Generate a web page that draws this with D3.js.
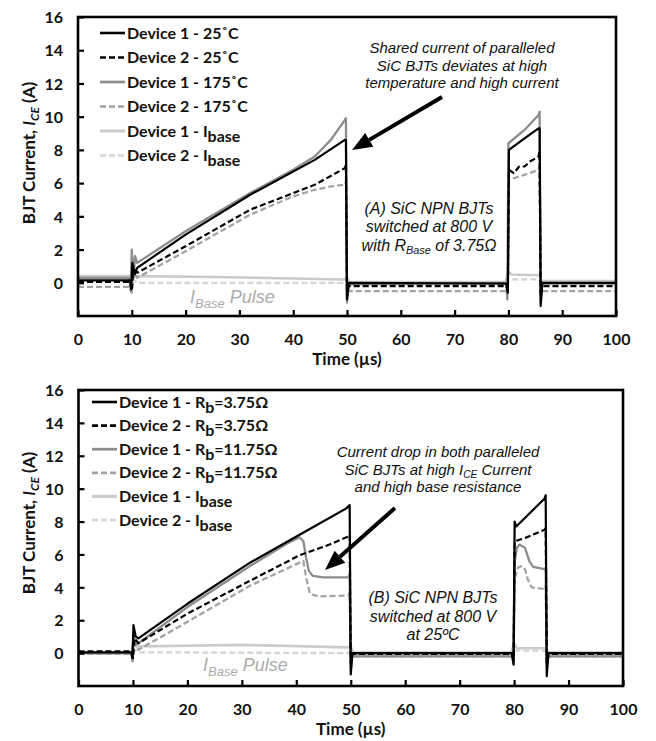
<!DOCTYPE html>
<html><head><meta charset="utf-8">
<script src="https://cdn.jsdelivr.net/npm/d3@7"></script>
<style>body{margin:0;background:#fff}</style>
</head><body>
<svg id="c" width="656" height="741"></svg>
<script>
// ---------------- DATA ----------------
const xTicks = [0,10,20,30,40,50,60,70,80,90,100];
const yTicks = [0,2,4,6,8,10,12,14,16];

// Panel A legend labels (parts: [text, isSubscript])
const legendA = [
  [["Device 1 - 25˚C",0]],
  [["Device 2 - 25˚C",0]],
  [["Device 1 - 175˚C",0]],
  [["Device 2 - 175˚C",0]],
  [["Device 1 - I",0],["base",1]],
  [["Device 2 - I",0],["base",1]]
];
const legendB = [
  [["Device 1 - R",0],["b",1],["=3.75Ω",0]],
  [["Device 2 - R",0],["b",1],["=3.75Ω",0]],
  [["Device 1 - R",0],["b",1],["=11.75Ω",0]],
  [["Device 2 - R",0],["b",1],["=11.75Ω",0]],
  [["Device 1 - I",0],["base",1]],
  [["Device 2 - I",0],["base",1]]
];

// Panel A series: [time µs, current A]
const a_dev1_25 = [[0,0.15],[9.7,0.15],[9.9,-0.4],[10.1,1.2],[10.5,0.5],[11,0.9],[20,2.9],[32,5.3],[44,7.4],[49.6,8.6],[49.8,8.6],[50,-1.0],[50.3,0.0],[79.6,-0.05],[79.9,-0.6],[80.1,8.0],[83,8.7],[85.6,9.3],[85.8,9.3],[86,-1.4],[86.3,0.0],[100,0.0]];
const a_dev2_25 = [[0,0.05],[9.7,0.05],[10.0,-0.5],[10.3,1.0],[11,0.6],[20,2.2],[32,4.4],[44,5.9],[49.6,6.9],[49.8,7.1],[50,-0.8],[50.3,-0.2],[79.6,-0.2],[79.9,-0.5],[80.1,6.8],[81,6.6],[82,7.0],[83,7.0],[84,7.3],[85.6,7.6],[85.8,7.9],[86,-0.8],[86.3,-0.2],[100,-0.2]];
const a_dev1_175 = [[0,0.3],[9.6,0.3],[9.8,-0.5],[10.0,2.0],[10.3,0.3],[10.6,1.6],[11,1.2],[20,3.1],[32,5.4],[40,6.8],[44,7.6],[47,8.6],[49.6,9.8],[49.8,9.9],[50,-1.2],[50.3,-0.1],[79.6,0.0],[79.8,-1.0],[80.0,8.4],[83,9.2],[85.6,10.1],[85.8,10.3],[86.0,-1.2],[86.3,-0.05],[100,-0.05]];
const a_dev2_175 = [[0,-0.25],[9.7,-0.25],[10.0,-0.6],[10.3,0.6],[11,0.3],[20,1.9],[32,4.1],[40,5.2],[44,5.6],[47,5.8],[49.6,5.9],[49.8,6.1],[50,-0.7],[50.3,-0.5],[79.6,-0.5],[79.9,-0.6],[80.1,6.2],[83,6.5],[85.6,6.8],[85.8,7.0],[86,-0.7],[86.3,-0.5],[100,-0.5]];
const a_dev1_ib = [[0,0.4],[9.8,0.4],[10,0.8],[10.5,0.4],[25,0.35],[49.5,0.2],[50,0.3],[50.5,0.05],[79.5,0.05],[80,0.7],[80.5,0.5],[85.8,0.45],[86.2,0.1],[100,0.1]];
const a_dev2_ib = [[0,0.1],[9.8,0.1],[10.2,0.2],[11,0.0],[49.5,0.0],[50,0.1],[50.5,-0.1],[79.5,-0.1],[80,0.2],[85.8,0.2],[86.2,-0.1],[100,-0.1]];

// Panel B series
const b_dev1_r375 = [[0,0.05],[9.7,0.05],[9.9,-0.3],[10.1,1.7],[10.5,1.0],[11,0.9],[20,3.0],[31.5,5.5],[40.6,7.2],[49.2,8.8],[49.8,9.0],[50,-1.3],[50.3,0.0],[79.6,0.0],[79.9,-0.7],[80.1,8.0],[80.4,7.7],[85.6,9.4],[85.8,9.6],[86,-1.4],[86.3,0.0],[100,0.0]];
const b_dev2_r375 = [[0,0.1],[9.7,0.1],[10.0,-0.3],[10.3,0.9],[11,0.6],[20,2.4],[31.5,4.4],[40.6,5.95],[46.1,6.6],[49.6,7.1],[49.8,7.2],[50,-0.6],[50.3,-0.05],[79.6,-0.05],[79.9,-0.4],[80.1,6.8],[82,7.0],[85.6,7.5],[85.8,7.6],[86,-0.6],[86.3,-0.05],[100,-0.05]];
const b_dev1_r1175 = [[0,0.0],[9.7,0.0],[9.9,-0.5],[10.1,1.2],[10.5,0.5],[11,0.6],[20,2.8],[31.5,5.3],[38,6.6],[40.6,7.05],[41.3,6.8],[41.8,5.8],[42.3,5.0],[43,4.7],[45,4.6],[49.6,4.6],[49.8,4.8],[50,-1.0],[50.3,-0.2],[79.6,-0.2],[79.9,-0.6],[80.1,5.5],[80.5,6.4],[81,6.6],[82,6.4],[82.8,5.6],[83.5,5.25],[85.6,5.1],[85.8,5.2],[86,-0.9],[86.3,-0.2],[100,-0.2]];
const b_dev2_r1175 = [[0,-0.05],[9.7,-0.05],[10.0,-0.4],[10.3,0.6],[11,0.2],[20,1.9],[31.5,4.1],[40.6,5.5],[41.3,5.6],[41.8,4.6],[42.5,3.6],[44,3.45],[49.6,3.5],[49.8,3.7],[50,-0.5],[50.3,-0.2],[79.6,-0.2],[79.9,-0.4],[80.1,4.5],[80.7,5.2],[81.5,5.3],[82,5.1],[82.5,4.5],[83.2,4.0],[85.6,3.9],[85.8,4.1],[86,-0.5],[86.3,-0.2],[100,-0.2]];
const b_dev1_ib = [[0,0.0],[9.8,0.0],[10,0.5],[10.5,0.4],[30,0.5],[49.5,0.35],[50,0.4],[50.5,0.05],[79.5,0.05],[80,0.6],[80.5,0.3],[85.8,0.3],[86.2,0.05],[100,0.05]];
const b_dev2_ib = [[0,0.0],[9.8,0.0],[10.3,0.2],[11,0.05],[49.5,0.0],[50,0.1],[50.5,-0.05],[79.5,-0.05],[80,0.15],[85.8,0.15],[86.2,-0.05],[100,-0.05]];

// ---------------- STYLES ----------------
const styles = [
  {color:"#000000", dash:null, w:2.2},
  {color:"#000000", dash:"6,3", w:2.2},
  {color:"#8c8c8c", dash:null, w:2.3},
  {color:"#a3a3a3", dash:"6,3", w:2.3},
  {color:"#cbcbcb", dash:null, w:2.6},
  {color:"#d4d4d4", dash:"6,3", w:2.3}
];
const drawOrder = [4,5,3,2,1,0];

const svg = d3.select("#c");
const boldFont = "Lato, 'Open Sans', sans-serif";
const italFont = "'Liberation Sans', Arial, sans-serif";

function rich(textSel, parts, subDy, subSize){
  parts.forEach((p,i)=>{
    const ts = textSel.append("tspan").text(p[0]);
    if(p[1]){ ts.attr("dy", subDy).attr("font-size", subSize); }
    else if(i>0 && parts[i-1][1]){ ts.attr("dy", -subDy); }
  });
}

function panel(cfg){
  const x = d3.scaleLinear().domain([0,100]).range([cfg.x0,cfg.x1]);
  const y = d3.scaleLinear().domain([-2,16]).range([cfg.yb,cfg.yt]);
  const g = svg.append("g");
  const line = d3.line().x(d=>x(d[0])).y(d=>y(d[1]));

  drawOrder.forEach(i=>{
    const s = styles[i];
    g.append("path").attr("d", line(cfg.series[i]))
      .attr("fill","none").attr("stroke", s.color).attr("stroke-width", s.w)
      .attr("stroke-dasharray", s.dash).attr("stroke-linejoin","round");
  });

  // axes
  const xa = g.append("g").attr("transform",`translate(0,${cfg.yb})`)
    .call(d3.axisBottom(x).tickValues(xTicks).tickSizeInner(-6).tickSizeOuter(0).tickPadding(18));
  const ya = g.append("g").attr("transform",`translate(${cfg.x0},0)`)
    .call(d3.axisLeft(y).tickValues(yTicks).tickSizeInner(-6).tickSizeOuter(0).tickPadding(15));
  [xa,ya].forEach(a=>{
    a.select(".domain").remove();
    a.selectAll("line").attr("stroke","#000").attr("stroke-width",2.2);
    a.selectAll("text").attr("font-family",boldFont).attr("font-weight","bold")
      .attr("font-size",16).attr("fill","#111");
  });
  ya.selectAll("text").attr("dy","0.36em");

  // frame
  g.append("rect").attr("x",cfg.x0).attr("y",cfg.yt).attr("width",cfg.x1-cfg.x0)
    .attr("height",cfg.yb-cfg.yt).attr("fill","none").attr("stroke","#000").attr("stroke-width",2.6);

  // axis titles
  g.append("text").attr("x",(cfg.x0+cfg.x1)/2).attr("y",cfg.yb+cfg.xtDy)
    .attr("text-anchor","middle").attr("font-family",boldFont).attr("font-weight","bold")
    .attr("font-size",17).attr("fill","#111").text("Time (µs)");
  const yt = g.append("text").attr("transform",`translate(${cfg.ytX},${cfg.ytY}) rotate(-90)`)
    .attr("text-anchor","middle").attr("font-family",boldFont).attr("font-weight","bold")
    .attr("font-size",17).attr("fill","#111");
  yt.append("tspan").text("BJT Current, ");
  yt.append("tspan").attr("font-style","italic").text("I");
  yt.append("tspan").attr("font-style","italic").attr("font-size",12).attr("dy",4).text("CE");
  yt.append("tspan").attr("dy",-4).text(" (A)");

  // legend
  cfg.legend.forEach((parts,i)=>{
    const cy = cfg.legY + i*cfg.legDy;
    const s = styles[i];
    g.append("line").attr("x1",cfg.legX).attr("x2",cfg.legX+25).attr("y1",cy).attr("y2",cy)
      .attr("stroke",s.color).attr("stroke-width",s.w+0.4).attr("stroke-dasharray",s.dash);
    const t = g.append("text").attr("x",cfg.legX+27).attr("y",cy+5.5)
      .attr("font-family",boldFont).attr("font-weight","bold").attr("font-size",16).attr("fill","#111");
    rich(t, parts, 5, 16);
  });

  // notes
  cfg.notes.forEach(n=>{
    n.lines.forEach((parts,i)=>{
      const t = g.append("text").attr("x",n.x).attr("y",n.y+i*n.dy)
        .attr("text-anchor","middle").attr("font-family",italFont).attr("font-style","italic")
        .attr("font-size",n.size).attr("fill","#111");
      rich(t, parts, 3, n.size*0.68);
    });
  });

  // I_Base pulse label
  const ib = g.append("text").attr("x",cfg.ibX).attr("y",cfg.ibY)
    .attr("font-family",italFont).attr("font-style","italic").attr("font-size",18).attr("fill","#ababab");
  rich(ib, [["I",0],["Base",1],[" Pulse",0]], 5, 13);

  // arrow
  const [ax0,ay0,ax1,ay1] = cfg.arrow;
  const ang = Math.atan2(ay1-ay0, ax1-ax0);
  const hl = 20, hw = 8;
  const bx = ax1 - hl*Math.cos(ang), by = ay1 - hl*Math.sin(ang);
  g.append("line").attr("x1",ax0).attr("y1",ay0).attr("x2",bx).attr("y2",by)
    .attr("stroke","#000").attr("stroke-width",4);
  g.append("path").attr("d",`M${ax1},${ay1}L${bx+hw*Math.sin(ang)},${by-hw*Math.cos(ang)}L${bx-hw*Math.sin(ang)},${by+hw*Math.cos(ang)}Z`)
    .attr("fill","#000");
}

panel({
  x0:78, x1:616, yt:17, yb:316, xtDy:49,
  series:[a_dev1_25,a_dev2_25,a_dev1_175,a_dev2_175,a_dev1_ib,a_dev2_ib],
  legend:legendA, legX:100, legY:33, legDy:24.5,
  ytX:35, ytY:153,
  notes:[
    {x:462, y:53, dy:17.5, size:15, lines:[[["Shared current of paralleled",0]],[["SiC BJTs deviates at high",0]],[["temperature and high current",0]]]},
    {x:429, y:214, dy:18.3, size:16, lines:[[["(A) SiC NPN BJTs",0]],[["switched at 800 V",0]],[["with R",0],["Base",1],[" of 3.75Ω",0]]]}
  ],
  ibX:190, ibY:303,
  arrow:[442,97,352,150]
});

panel({
  x0:78.5, x1:623, yt:390, yb:686, xtDy:49,
  series:[b_dev1_r375,b_dev2_r375,b_dev1_r1175,b_dev2_r1175,b_dev1_ib,b_dev2_ib],
  legend:legendB, legX:92, legY:402, legDy:23.6,
  ytX:35, ytY:523,
  notes:[
    {x:438, y:457, dy:17.6, size:15, lines:[[["Current drop in both paralleled",0]],[["SiC BJTs at high I",0],["CE",1],[" Current",0]],[["and high base resistance",0]]]},
    {x:433, y:603, dy:18.5, size:16, lines:[[["(B) SiC NPN BJTs",0]],[["switched at 800 V",0]],[["at 25ºC",0]]]}
  ],
  ibX:203, ibY:671,
  arrow:[395,508,325,570]
});
</script>
</body></html>
